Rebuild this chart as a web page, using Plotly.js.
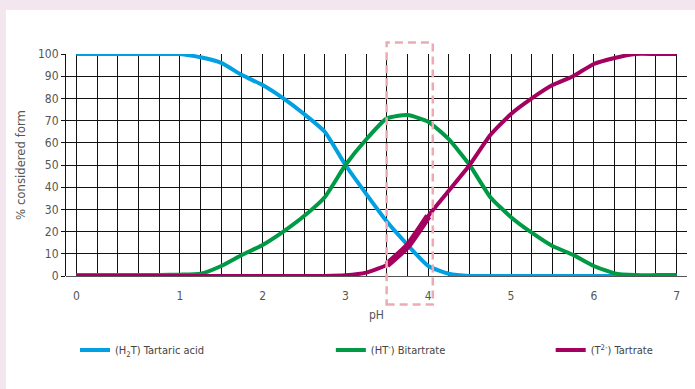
<!DOCTYPE html>
<html>
<head>
<meta charset="utf-8">
<script src="https://cdn.plot.ly/plotly-3.0.1.min.js"></script>
<style>
html,body{margin:0;padding:0;background:#f4e6ef;width:695px;height:389px;overflow:hidden;}
#chart{position:absolute;left:6px;top:10px;width:689px;height:379px;background:#fff;}
</style>
</head>
<body>
<div id="chart"></div>
<script>
var categories = ['0','0.2','0.4','0.6','0.8','1','1.25','1.5','1.75','2','2.25','2.5','2.75','3','3.25','3.5','3.75','4','4.25','4.5','4.75','5','5.25','5.5','5.75','6','6.25','6.5','6.75','7'];
var tickLabels = ['0','','','','','1','','','','2','','','','3','','','','4','','','','5','','','','6','','','','7'];
var tartaricAcid = [100,100,100,100,100,100,98.5,96,90.5,86,80,73,65,50,37,24.5,14,4.5,1,0,0,0,0,0,0,0,0,0,0,0];
var bitartrate = [0.5,0.5,0.5,0.5,0.5,0.6,1,4.5,9.5,14,20,27,35.5,50,61.5,71,72.5,69.5,61.5,50,35.5,26.5,19.5,13.5,9.5,4.5,1.2,0.4,0.4,0.4];
var tartrate = [0,0,0,0,0,0,0,0,0,0,0,0,0,0.3,1.5,5,13.5,27,38.5,50,63.5,73,80,86,90,95.5,98.2,100,100,100];
var highlightRange = [15, 18]; // slice of categories highlighted (3.5 to 4)
var seriesNames = ['(H<sub>2</sub>T) Tartaric acid', '(HT<sup>-</sup>) Bitartrate', '(T<sup>2-</sup>) Tartrate'];

var FONT = '"Liberation Sans Narrow", "DejaVu Sans Condensed", "Open Sans", sans-serif';
var colors = ['#00a0e3', '#009a44', '#a4005f'];

var traces = [
  {x: categories, y: tartaricAcid, name: seriesNames[0], legend: 'legend', mode: 'lines', cliponaxis: false,
   line: {color: colors[0], width: 4, shape: 'spline', smoothing: 0.5}},
  {x: categories, y: bitartrate, name: seriesNames[1], legend: 'legend2', mode: 'lines', cliponaxis: false,
   line: {color: colors[1], width: 4, shape: 'spline', smoothing: 0.5}},
  {x: categories, y: tartrate, name: seriesNames[2], legend: 'legend3', mode: 'lines', cliponaxis: false,
   line: {color: colors[2], width: 4, shape: 'spline', smoothing: 0.5}},
  {x: categories.slice(highlightRange[0], highlightRange[1]), y: tartrate.slice(highlightRange[0], highlightRange[1]),
   showlegend: false, mode: 'lines', cliponaxis: false, hoverinfo: 'skip',
   line: {color: colors[2], width: 7, shape: 'spline', smoothing: 0.5}}
];

var legendBase = {orientation: 'h', yanchor: 'middle', xanchor: 'left', y: -0.333,
  bgcolor: 'rgba(0,0,0,0)', font: {family: FONT, size: 11, color: '#444'}};

var layout = {
  width: 689, height: 379,
  margin: {l: 60, r: 8, t: 44, b: 113},
  paper_bgcolor: '#ffffff', plot_bgcolor: '#ffffff',
  font: {family: FONT, color: '#555'},
  xaxis: {
    type: 'category', range: [-0.5, 29.5], categoryorder: 'array', categoryarray: categories,
    tickmode: 'array', tickvals: categories, ticktext: tickLabels,
    showgrid: true, gridcolor: '#111', gridwidth: 1,
    ticks: 'outside', ticklen: 9, tickcolor: 'rgba(0,0,0,0)',
    tickfont: {family: FONT, size: 12, color: '#555'},
    showline: false, zeroline: false,
    title: {text: 'pH', font: {family: FONT, size: 12, color: '#555'}, standoff: 8}
  },
  yaxis: {
    range: [0, 100], tickmode: 'array', tickvals: [0,10,20,30,40,50,60,70,80,90,100],
    showgrid: true, gridcolor: '#111', gridwidth: 1,
    zeroline: true, zerolinecolor: '#555', zerolinewidth: 1,
    showline: true, linecolor: '#111', linewidth: 1,
    ticks: 'outside', ticklen: 4, tickcolor: '#111',
    tickfont: {family: FONT, size: 12, color: '#555'},
    title: {text: '% considered form', font: {family: FONT, size: 13, color: '#555'}, standoff: 9}
  },
  legend: Object.assign({}, legendBase, {x: 0.0145}),
  legend2: Object.assign({}, legendBase, {x: 0.4265}),
  legend3: Object.assign({}, legendBase, {x: 0.7805}),
  shapes: [
    {type: 'rect', xref: 'x', yref: 'paper', x0: 14.99, x1: 17.22, y0: -0.128, y1: 1.052,
     line: {color: '#eeaab2', width: 2.5, dash: '8px,5px'}, fillcolor: 'rgba(0,0,0,0)', layer: 'above'}
  ]
};

Plotly.newPlot('chart', traces, layout, {displayModeBar: false, staticPlot: true});
</script>
</body>
</html>
